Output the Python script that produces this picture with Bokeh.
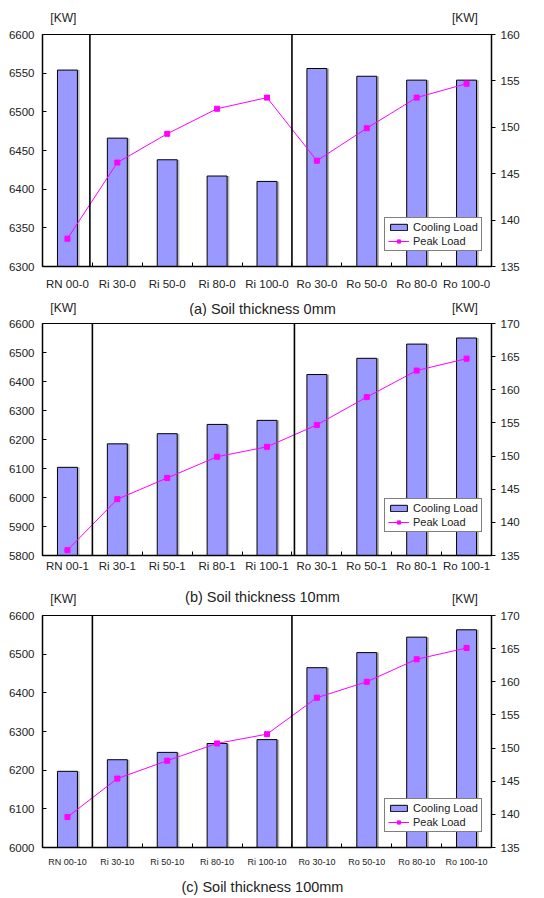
import numpy as np
from bokeh.plotting import figure
from bokeh.models import (Range1d, LinearAxis, FixedTicker, Span, Label, Legend, LegendItem)
from bokeh.layouts import column
from bokeh.embed import file_html
from bokeh.resources import INLINE

# ---------------- data ----------------
labels_a = ["RN 00-0", "Ri 30-0", "Ri 50-0", "Ri 80-0", "Ri 100-0",
            "Ro 30-0", "Ro 50-0", "Ro 80-0", "Ro 100-0"]
cooling_a = [6554, 6466, 6438, 6417, 6410, 6556, 6546, 6541, 6541]
peak_a = [138.0, 146.2, 149.3, 152.0, 153.2, 146.4, 149.9, 153.2, 154.7]

labels_b = ["RN 00-1", "Ri 30-1", "Ri 50-1", "Ri 80-1", "Ri 100-1",
            "Ro 30-1", "Ro 50-1", "Ro 80-1", "Ro 100-1"]
cooling_b = [6104, 6185, 6220, 6252, 6266, 6424, 6480, 6529, 6550]
peak_b = [135.8, 143.5, 146.7, 149.9, 151.4, 154.7, 158.9, 162.9, 164.7]

labels_c = ["RN 00-10", "Ri 30-10", "Ri 50-10", "Ri 80-10", "Ri 100-10",
            "Ro 30-10", "Ro 50-10", "Ro 80-10", "Ro 100-10"]
cooling_c = [6197, 6227, 6246, 6269, 6279, 6465, 6504, 6544, 6563]
peak_c = [139.6, 145.4, 148.1, 150.7, 152.1, 157.6, 160.0, 163.4, 165.1]

titles = ["(a) Soil thickness 0mm", "(b) Soil thickness 10mm", "(c) Soil thickness 100mm"]
unit = "[KW]"

FONT = "Liberation Sans"
TXT = "#222222"
BAR = "#9999FF"
PEAK = "#FF00FF"
W = 544
BL, BR = 42, 53   # left / right borders -> frame from x=42 to x=491


def make_panel(labels, cooling, peak, left_rng, left_step, right_rng, right_step,
               height, top, bottom, xlab_size, xlab_standoff, sep_positions, legend_y):
    n = len(labels)
    xs = np.arange(n)
    p = figure(width=W, height=height, output_backend="svg", toolbar_location=None,
               x_range=Range1d(-0.5, n - 0.5), y_range=Range1d(*left_rng),
               min_border_left=BL, min_border_right=BR, min_border_top=top,
               min_border_bottom=bottom)
    p.xgrid.visible = False
    p.ygrid.visible = False
    p.outline_line_color = "black"
    p.outline_line_width = 1
    p.background_fill_color = "white"
    p.border_fill_color = "white"

    # x axis: labels under bars, small inward ticks between categories
    xa = p.xaxis[0]
    xa.ticker = FixedTicker(ticks=list(xs), minor_ticks=[i + 0.5 for i in range(n - 1)])
    xa.major_label_overrides = {int(i): lab for i, lab in zip(xs, labels)}
    xa.major_tick_in = 0
    xa.major_tick_out = 0
    xa.minor_tick_in = 4
    xa.minor_tick_out = 0
    xa.minor_tick_line_color = "black"
    xa.axis_line_color = "black"
    xa.axis_line_width = 1.5
    xa.major_label_text_font = FONT
    xa.major_label_text_font_size = xlab_size
    xa.major_label_text_color = TXT
    xa.major_label_standoff = xlab_standoff

    # left axis
    ya = p.yaxis[0]
    ya.ticker = FixedTicker(ticks=list(np.arange(left_rng[0], left_rng[1] + 1, left_step)))
    ya.major_tick_in = 4
    ya.major_tick_out = 0
    ya.minor_tick_line_color = None
    ya.axis_line_color = "black"
    ya.axis_line_width = 1.5
    ya.major_label_text_font = FONT
    ya.major_label_text_font_size = "11.5px"
    ya.major_label_text_color = TXT
    ya.major_label_standoff = 8

    # right axis
    p.extra_y_ranges = {"peak": Range1d(*right_rng)}
    ra = LinearAxis(y_range_name="peak")
    ra.ticker = FixedTicker(ticks=list(np.arange(right_rng[0], right_rng[1] + 1, right_step)))
    ra.major_tick_in = 0
    ra.major_tick_out = 4
    ra.minor_tick_line_color = None
    ra.axis_line_color = "black"
    ra.axis_line_width = 1.5
    ra.major_label_text_font = FONT
    ra.major_label_text_font_size = "11.5px"
    ra.major_label_text_color = TXT
    ra.major_label_standoff = 5
    p.add_layout(ra, "right")

    # bars (with a light shadow)
    p.vbar(x=xs + 0.045, top=cooling, bottom=left_rng[0], width=0.4,
           fill_color="#BBBBBB", line_color=None)
    bars = p.vbar(x=xs, top=cooling, bottom=left_rng[0], width=0.4,
                  fill_color=BAR, line_color="black", line_width=1)

    # group separators
    for s in sep_positions:
        p.add_layout(Span(location=s, dimension="height", line_color="black",
                          line_width=1.6))

    line = p.line(xs, peak, y_range_name="peak", line_color=PEAK, line_width=1)
    pts = p.scatter(xs, peak, y_range_name="peak", marker="square", size=5,
                    fill_color=PEAK, line_color=PEAK)

    legend = Legend(items=[LegendItem(label="Cooling Load", renderers=[bars]),
                           LegendItem(label="Peak Load", renderers=[line, pts])],
                    location=(342, legend_y))
    legend.label_text_font = FONT
    legend.label_text_font_size = "11px"
    legend.label_text_color = TXT
    legend.glyph_width = 21
    legend.glyph_height = 8
    legend.label_standoff = 4
    legend.padding = 3
    legend.spacing = 2
    legend.margin = 0
    legend.label_height = 12
    legend.border_line_color = "black"
    legend.border_line_width = 1
    legend.background_fill_color = "white"
    legend.background_fill_alpha = 1
    p.add_layout(legend, "center")
    return p


def text_strip(h, items):
    """A text-only row; items: (x, y-from-top, text, size, align)."""
    s = figure(width=W, height=h, output_backend="svg", toolbar_location=None,
               x_range=Range1d(0, W), y_range=Range1d(0, h), min_border=0,
               x_axis_location=None, y_axis_location=None)
    s.grid.visible = False
    s.outline_line_color = None
    s.border_fill_color = "white"
    for x, yt, txt, size, al in items:
        s.add_layout(Label(x=x, y=h - yt, text=txt, text_align=al, text_baseline="middle",
                           text_font=FONT, text_font_size=size, text_color=TXT))
    return s


CX = (42 + 491) / 2  # caption centre


def kw_items(yt):
    return [(9.5, yt, unit, "12px", "left"), (496, yt, unit, "12px", "left")]


s0 = text_strip(27, kw_items(17.5))
pa = make_panel(labels_a, cooling_a, peak_a, (6300, 6600), 50, (135, 160), 5,
                height=271, top=7, bottom=32, xlab_size="11.5px", xlab_standoff=11,
                sep_positions=[0.45, 4.5], legend_y=15)
s1 = text_strip(18, [(CX, 10, titles[0], "14.5px", "center")] + kw_items(9.5))
pb = make_panel(labels_b, cooling_b, peak_b, (5800, 6600), 100, (135, 170), 5,
                height=264, top=7, bottom=25, xlab_size="11.5px", xlab_standoff=4,
                sep_positions=[0.5, 4.55], legend_y=23)
s2 = text_strip(28, [(CX, 16, titles[1], "14.5px", "center")] + kw_items(18))
pc = make_panel(labels_c, cooling_c, peak_c, (6000, 6600), 100, (135, 170), 5,
                height=264, top=7, bottom=25, xlab_size="9px", xlab_standoff=9,
                sep_positions=[0.5, 4.5], legend_y=15)
s3 = text_strip(24, [(CX, 14.7, titles[2], "14.5px", "center")])

layout = column(s0, pa, s1, pb, s2, pc, s3, spacing=0)
open("out.html", "w").write(file_html(layout, INLINE))
